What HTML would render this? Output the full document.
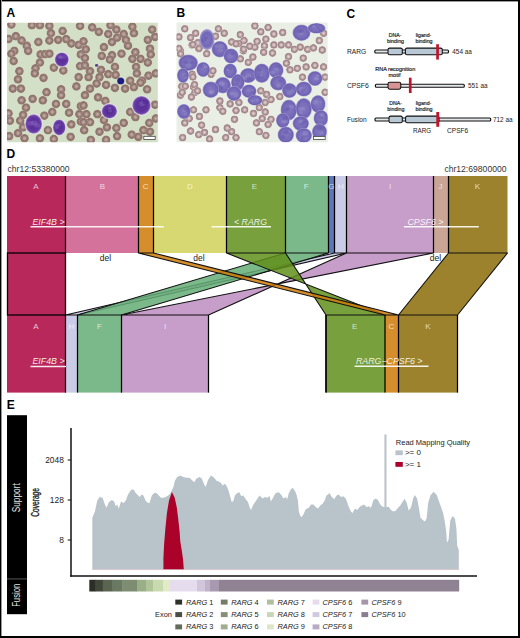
<!DOCTYPE html>
<html><head><meta charset="utf-8"><style>
html,body{margin:0;padding:0;background:#fff;}
body{width:520px;height:638px;position:relative;overflow:hidden;font-family:'Liberation Sans',sans-serif;}
</style></head><body>
<svg width="520" height="638" viewBox="0 0 520 638" style="position:absolute;left:0;top:0">
<rect x="7" y="176" width="58.5" height="77" fill="#b8285a"/>
<rect x="65.5" y="176" width="73.0" height="77" fill="#d5729c"/>
<rect x="138.5" y="176" width="15.0" height="77" fill="#d68e2c"/>
<rect x="153.5" y="176" width="73.0" height="77" fill="#d8d872"/>
<rect x="226.5" y="176" width="59.0" height="77" fill="#78a03c"/>
<rect x="285.5" y="176" width="43.0" height="77" fill="#7cb98a"/>
<rect x="328.5" y="176" width="6.0" height="77" fill="#5b79b9"/>
<rect x="334.5" y="176" width="12.0" height="77" fill="#cacbe6"/>
<rect x="346.5" y="176" width="87.0" height="77" fill="#c79dc9"/>
<rect x="433.5" y="176" width="15.0" height="77" fill="#caa595"/>
<rect x="448.5" y="176" width="59.0" height="77" fill="#9c822c"/>
<rect x="7" y="315" width="58.5" height="77.60000000000002" fill="#b8285a"/>
<rect x="65.5" y="315" width="12.0" height="77.60000000000002" fill="#cacbe6"/>
<rect x="77.5" y="315" width="44.0" height="77.60000000000002" fill="#7cb98a"/>
<rect x="121.5" y="315" width="87.0" height="77.60000000000002" fill="#c79dc9"/>
<rect x="326" y="315" width="59" height="77.60000000000002" fill="#78a03c"/>
<rect x="385" y="315" width="13.5" height="77.60000000000002" fill="#d68e2c"/>
<rect x="398.5" y="315" width="59.0" height="77.60000000000002" fill="#9c822c"/>
<rect x="7.5" y="253" width="58" height="62" fill="#b8285a" stroke="#000" stroke-width="1.3"/>
<polygon points="334.5,253 346.5,253 77.5,315 65.5,315" fill="#c1c2e2" fill-opacity="0.85" stroke="#111" stroke-width="1.1" stroke-linejoin="round"/>
<polygon points="285.5,253 328.5,253 121.5,315 77.5,315" fill="#65ad75" fill-opacity="0.85" stroke="#111" stroke-width="1.1" stroke-linejoin="round"/>
<polygon points="346.5,253 433.5,253 121.5,315 208.5,315" fill="#bd8cbf" fill-opacity="0.85" stroke="#111" stroke-width="1.1" stroke-linejoin="round"/>
<polygon points="226.5,253 285.5,253 326,315 385,315" fill="#608f1a" fill-opacity="0.85" stroke="#111" stroke-width="1.1" stroke-linejoin="round"/>
<polygon points="138.5,253 153.5,253 398.5,315 385,315" fill="#cf7a07" fill-opacity="0.85" stroke="#111" stroke-width="1.1" stroke-linejoin="round"/>
<polygon points="448.5,253 507.5,253 457.5,315 398.5,315" fill="#8b6c07" fill-opacity="0.85" stroke="#111" stroke-width="1.1" stroke-linejoin="round"/>
<line x1="65.5" y1="176" x2="65.5" y2="253" stroke="#000" stroke-width="1.25"/>
<line x1="138.5" y1="176" x2="138.5" y2="253" stroke="#000" stroke-width="1.25"/>
<line x1="153.5" y1="176" x2="153.5" y2="253" stroke="#000" stroke-width="1.25"/>
<line x1="226.5" y1="176" x2="226.5" y2="253" stroke="#000" stroke-width="1.25"/>
<line x1="285.5" y1="176" x2="285.5" y2="253" stroke="#000" stroke-width="1.25"/>
<line x1="328.5" y1="176" x2="328.5" y2="253" stroke="#000" stroke-width="1.25"/>
<line x1="334.5" y1="176" x2="334.5" y2="253" stroke="#000" stroke-width="1.25"/>
<line x1="346.5" y1="176" x2="346.5" y2="253" stroke="#000" stroke-width="1.25"/>
<line x1="433.5" y1="176" x2="433.5" y2="253" stroke="#000" stroke-width="1.25"/>
<line x1="448.5" y1="176" x2="448.5" y2="253" stroke="#000" stroke-width="1.25"/>
<line x1="507.5" y1="176" x2="507.5" y2="253" stroke="#111" stroke-width="0"/>
<line x1="65.5" y1="315" x2="65.5" y2="392.6" stroke="#000" stroke-width="1.25"/>
<line x1="77.5" y1="315" x2="77.5" y2="392.6" stroke="#000" stroke-width="1.25"/>
<line x1="121.5" y1="315" x2="121.5" y2="392.6" stroke="#000" stroke-width="1.25"/>
<line x1="326" y1="315" x2="326" y2="392.6" stroke="#000" stroke-width="1.25"/>
<line x1="385" y1="315" x2="385" y2="392.6" stroke="#000" stroke-width="1.25"/>
<line x1="398.5" y1="315" x2="398.5" y2="392.6" stroke="#000" stroke-width="1.25"/>
<line x1="208.5" y1="315" x2="208.5" y2="392.6" stroke="#000" stroke-width="1.25"/>
<line x1="326" y1="315" x2="326" y2="392.6" stroke="#000" stroke-width="1.25"/>
<line x1="457.5" y1="315" x2="457.5" y2="392.6" stroke="#000" stroke-width="1.25"/>
<text x="36" y="189" font-size="8" text-anchor="middle" fill="#fff" fill-opacity="0.72" style="font-family:'Liberation Sans',sans-serif">A</text>
<text x="102.3" y="189" font-size="8" text-anchor="middle" fill="#fff" fill-opacity="0.72" style="font-family:'Liberation Sans',sans-serif">B</text>
<text x="145.7" y="189" font-size="8" text-anchor="middle" fill="#fff" fill-opacity="0.72" style="font-family:'Liberation Sans',sans-serif">C</text>
<text x="190" y="189" font-size="8" text-anchor="middle" fill="#fff" fill-opacity="0.72" style="font-family:'Liberation Sans',sans-serif">D</text>
<text x="254.5" y="189" font-size="8" text-anchor="middle" fill="#fff" fill-opacity="0.72" style="font-family:'Liberation Sans',sans-serif">E</text>
<text x="306.3" y="189" font-size="8" text-anchor="middle" fill="#fff" fill-opacity="0.72" style="font-family:'Liberation Sans',sans-serif">F</text>
<text x="331.3" y="189" font-size="8" text-anchor="middle" fill="#fff" fill-opacity="0.72" style="font-family:'Liberation Sans',sans-serif">G</text>
<text x="340.8" y="189" font-size="8" text-anchor="middle" fill="#fff" fill-opacity="0.72" style="font-family:'Liberation Sans',sans-serif">H</text>
<text x="390.2" y="189" font-size="8" text-anchor="middle" fill="#fff" fill-opacity="0.72" style="font-family:'Liberation Sans',sans-serif">I</text>
<text x="440.6" y="189" font-size="8" text-anchor="middle" fill="#fff" fill-opacity="0.72" style="font-family:'Liberation Sans',sans-serif">J</text>
<text x="477.3" y="189" font-size="8" text-anchor="middle" fill="#fff" fill-opacity="0.72" style="font-family:'Liberation Sans',sans-serif">K</text>
<text x="36" y="328.5" font-size="8" text-anchor="middle" fill="#fff" fill-opacity="0.72" style="font-family:'Liberation Sans',sans-serif">A</text>
<text x="71.5" y="328.5" font-size="8" text-anchor="middle" fill="#fff" fill-opacity="0.72" style="font-family:'Liberation Sans',sans-serif">H</text>
<text x="99.5" y="328.5" font-size="8" text-anchor="middle" fill="#fff" fill-opacity="0.72" style="font-family:'Liberation Sans',sans-serif">F</text>
<text x="165" y="328.5" font-size="8" text-anchor="middle" fill="#fff" fill-opacity="0.72" style="font-family:'Liberation Sans',sans-serif">I</text>
<text x="354.6" y="328.5" font-size="8" text-anchor="middle" fill="#fff" fill-opacity="0.72" style="font-family:'Liberation Sans',sans-serif">E</text>
<text x="391.5" y="328.5" font-size="8" text-anchor="middle" fill="#fff" fill-opacity="0.72" style="font-family:'Liberation Sans',sans-serif">C</text>
<text x="427.8" y="328.5" font-size="8" text-anchor="middle" fill="#fff" fill-opacity="0.72" style="font-family:'Liberation Sans',sans-serif">K</text>
<text x="32.5" y="225" font-size="8.8" font-style="italic" fill="#fff" fill-opacity="0.9" style="font-family:'Liberation Sans',sans-serif">EIF4B &gt;</text>
<line x1="30.5" y1="226.8" x2="163.8" y2="226.8" stroke="#fff" stroke-opacity="0.9" stroke-width="1.5"/>
<text x="234" y="225" font-size="8.8" font-style="italic" fill="#fff" fill-opacity="0.9" style="font-family:'Liberation Sans',sans-serif">&lt; RARG</text>
<line x1="211.5" y1="226.8" x2="271" y2="226.8" stroke="#fff" stroke-opacity="0.9" stroke-width="1.5"/>
<text x="407.5" y="225" font-size="8.8" font-style="italic" fill="#fff" fill-opacity="0.9" style="font-family:'Liberation Sans',sans-serif">CPSF6 &gt;</text>
<line x1="403.8" y1="226.8" x2="478.8" y2="226.8" stroke="#fff" stroke-opacity="0.9" stroke-width="1.5"/>
<text x="32.5" y="364" font-size="8.8" font-style="italic" fill="#fff" fill-opacity="0.9" style="font-family:'Liberation Sans',sans-serif">EIF4B &gt;</text>
<line x1="30.5" y1="366.5" x2="66" y2="366.5" stroke="#fff" stroke-opacity="0.9" stroke-width="1.5"/>
<text x="356" y="364" font-size="8.8" font-style="italic" fill="#fff" fill-opacity="0.9" style="font-family:'Liberation Sans',sans-serif">RARG−CPSF6 &gt;</text>
<line x1="354.6" y1="366.3" x2="428.5" y2="366.3" stroke="#fff" stroke-opacity="0.9" stroke-width="1.5"/>
<text x="105.5" y="261" font-size="8.5" text-anchor="middle" fill="#1a1a1a" style="font-family:'Liberation Sans',sans-serif">del</text>
<text x="199" y="261" font-size="8.5" text-anchor="middle" fill="#1a1a1a" style="font-family:'Liberation Sans',sans-serif">del</text>
<text x="435.5" y="261" font-size="8.5" text-anchor="middle" fill="#1a1a1a" style="font-family:'Liberation Sans',sans-serif">del</text>
<text x="7.5" y="171.8" font-size="8.6" fill="#333" style="font-family:'Liberation Sans',sans-serif">chr12:53380000</text>
<text x="506.5" y="171.8" font-size="8.6" text-anchor="end" fill="#333" style="font-family:'Liberation Sans',sans-serif">chr12:69800000</text>
<defs>
<clipPath id="clipA"><rect x="7" y="22.8" width="150.8" height="119.5"/></clipPath>
<clipPath id="clipB"><rect x="176.5" y="22.6" width="151.2" height="119.7"/></clipPath>
<filter id="blur" x="-5%" y="-5%" width="110%" height="110%"><feGaussianBlur stdDeviation="0.55"/></filter>
<radialGradient id="rbcA"><stop offset="0" stop-color="#c6b6ac"/><stop offset="0.3" stop-color="#ae988f"/><stop offset="0.65" stop-color="#8e726b"/><stop offset="0.9" stop-color="#947a72"/><stop offset="1" stop-color="#b8aa9e"/></radialGradient>
<radialGradient id="rbcB"><stop offset="0" stop-color="#e6dcdc"/><stop offset="0.35" stop-color="#c9b2b2"/><stop offset="0.7" stop-color="#a08386"/><stop offset="0.92" stop-color="#ad9596"/><stop offset="1" stop-color="#d8d2d0"/></radialGradient>
<radialGradient id="cellA"><stop offset="0" stop-color="#563096"/><stop offset="0.6" stop-color="#5e309c"/><stop offset="0.85" stop-color="#6c42a8"/><stop offset="1" stop-color="#ae9acc"/></radialGradient>
<radialGradient id="cellB"><stop offset="0" stop-color="#8278c0"/><stop offset="0.6" stop-color="#786cba"/><stop offset="0.86" stop-color="#6e62b2"/><stop offset="1" stop-color="#aaa4d2"/></radialGradient>
<radialGradient id="cellB2"><stop offset="0" stop-color="#8078c0"/><stop offset="0.7" stop-color="#7268b8"/><stop offset="1" stop-color="#a8a2d2"/></radialGradient>
<radialGradient id="lymph"><stop offset="0" stop-color="#22208c"/><stop offset="0.8" stop-color="#1c1a7c"/><stop offset="1" stop-color="#5654a0"/></radialGradient>
</defs>
<g clip-path="url(#clipA)"><g filter="url(#blur)">
<rect x="5" y="20" width="156" height="125" fill="#d3dfc6"/>
<circle cx="11.4" cy="24.5" r="4.4" fill="url(#rbcA)"/>
<circle cx="31.9" cy="25.2" r="4.4" fill="url(#rbcA)"/>
<circle cx="39.9" cy="25.2" r="4.4" fill="url(#rbcA)"/>
<circle cx="49.4" cy="25.9" r="4.4" fill="url(#rbcA)"/>
<circle cx="50.9" cy="33.2" r="4.4" fill="url(#rbcA)"/>
<circle cx="62.6" cy="31" r="4.4" fill="url(#rbcA)"/>
<circle cx="66.2" cy="39.1" r="4.4" fill="url(#rbcA)"/>
<circle cx="71.3" cy="43.5" r="4.4" fill="url(#rbcA)"/>
<circle cx="78.6" cy="44.9" r="4.4" fill="url(#rbcA)"/>
<circle cx="80.1" cy="25.9" r="4.4" fill="url(#rbcA)"/>
<circle cx="15.8" cy="36.2" r="4.4" fill="url(#rbcA)"/>
<circle cx="21.6" cy="40.5" r="4.4" fill="url(#rbcA)"/>
<circle cx="8.5" cy="39" r="4.4" fill="url(#rbcA)"/>
<circle cx="26.7" cy="45.7" r="4.4" fill="url(#rbcA)"/>
<circle cx="28.2" cy="50.8" r="4.4" fill="url(#rbcA)"/>
<circle cx="14.3" cy="50.8" r="4.4" fill="url(#rbcA)"/>
<circle cx="11.4" cy="53.7" r="4.4" fill="url(#rbcA)"/>
<circle cx="13.6" cy="61" r="4.4" fill="url(#rbcA)"/>
<circle cx="38.4" cy="42" r="4.4" fill="url(#rbcA)"/>
<circle cx="49.4" cy="40.5" r="4.4" fill="url(#rbcA)"/>
<circle cx="58.2" cy="39.8" r="4.4" fill="url(#rbcA)"/>
<circle cx="40.6" cy="54.4" r="4.4" fill="url(#rbcA)"/>
<circle cx="45" cy="54.2" r="4.4" fill="url(#rbcA)"/>
<circle cx="49.4" cy="53.7" r="4.4" fill="url(#rbcA)"/>
<circle cx="39.9" cy="62.5" r="4.4" fill="url(#rbcA)"/>
<circle cx="35.5" cy="68.3" r="4.4" fill="url(#rbcA)"/>
<circle cx="34.8" cy="73.4" r="4.4" fill="url(#rbcA)"/>
<circle cx="19.4" cy="71.2" r="4.4" fill="url(#rbcA)"/>
<circle cx="18" cy="79.3" r="4.4" fill="url(#rbcA)"/>
<circle cx="43.5" cy="77.8" r="4.4" fill="url(#rbcA)"/>
<circle cx="53.8" cy="67.6" r="4.4" fill="url(#rbcA)"/>
<circle cx="63.3" cy="70.5" r="4.4" fill="url(#rbcA)"/>
<circle cx="80.1" cy="66.1" r="4.4" fill="url(#rbcA)"/>
<circle cx="78.6" cy="77.1" r="4.4" fill="url(#rbcA)"/>
<circle cx="80.8" cy="54.4" r="4.4" fill="url(#rbcA)"/>
<circle cx="92.2" cy="27.4" r="4.4" fill="url(#rbcA)"/>
<circle cx="98.8" cy="31.8" r="4.4" fill="url(#rbcA)"/>
<circle cx="108.3" cy="34" r="4.4" fill="url(#rbcA)"/>
<circle cx="110.5" cy="25.2" r="4.4" fill="url(#rbcA)"/>
<circle cx="116.4" cy="29.6" r="4.4" fill="url(#rbcA)"/>
<circle cx="117.1" cy="37.6" r="4.4" fill="url(#rbcA)"/>
<circle cx="123.7" cy="34" r="4.4" fill="url(#rbcA)"/>
<circle cx="132.4" cy="26.7" r="4.4" fill="url(#rbcA)"/>
<circle cx="133.9" cy="33.2" r="4.4" fill="url(#rbcA)"/>
<circle cx="125.9" cy="39.8" r="4.4" fill="url(#rbcA)"/>
<circle cx="128" cy="45.7" r="4.4" fill="url(#rbcA)"/>
<circle cx="112" cy="42" r="4.4" fill="url(#rbcA)"/>
<circle cx="103.9" cy="47.1" r="4.4" fill="url(#rbcA)"/>
<circle cx="85.7" cy="49.3" r="4.4" fill="url(#rbcA)"/>
<circle cx="83.5" cy="41.3" r="4.4" fill="url(#rbcA)"/>
<circle cx="152.2" cy="29.6" r="4.4" fill="url(#rbcA)"/>
<circle cx="155.1" cy="36.9" r="4.4" fill="url(#rbcA)"/>
<circle cx="147.8" cy="39.8" r="4.4" fill="url(#rbcA)"/>
<circle cx="150" cy="48.6" r="4.4" fill="url(#rbcA)"/>
<circle cx="150.7" cy="54.4" r="4.4" fill="url(#rbcA)"/>
<circle cx="135.4" cy="52.2" r="4.4" fill="url(#rbcA)"/>
<circle cx="140.5" cy="58.8" r="4.4" fill="url(#rbcA)"/>
<circle cx="132.4" cy="58.8" r="4.4" fill="url(#rbcA)"/>
<circle cx="121.5" cy="53.7" r="4.4" fill="url(#rbcA)"/>
<circle cx="112" cy="55.2" r="4.4" fill="url(#rbcA)"/>
<circle cx="109.8" cy="59.5" r="4.4" fill="url(#rbcA)"/>
<circle cx="101.7" cy="55.9" r="4.4" fill="url(#rbcA)"/>
<circle cx="84.9" cy="58.1" r="4.4" fill="url(#rbcA)"/>
<circle cx="84.9" cy="65.4" r="4.4" fill="url(#rbcA)"/>
<circle cx="90" cy="71.2" r="4.4" fill="url(#rbcA)"/>
<circle cx="101" cy="69.8" r="4.4" fill="url(#rbcA)"/>
<circle cx="99.5" cy="77.1" r="4.4" fill="url(#rbcA)"/>
<circle cx="88.6" cy="77.1" r="4.4" fill="url(#rbcA)"/>
<circle cx="108.3" cy="74.2" r="4.4" fill="url(#rbcA)"/>
<circle cx="114.9" cy="66.9" r="4.4" fill="url(#rbcA)"/>
<circle cx="115.6" cy="74.9" r="4.4" fill="url(#rbcA)"/>
<circle cx="136.1" cy="66.9" r="4.4" fill="url(#rbcA)"/>
<circle cx="136.8" cy="73.4" r="4.4" fill="url(#rbcA)"/>
<circle cx="147.8" cy="62.5" r="4.4" fill="url(#rbcA)"/>
<circle cx="148.5" cy="75.6" r="4.4" fill="url(#rbcA)"/>
<circle cx="155.8" cy="73.4" r="4.4" fill="url(#rbcA)"/>
<circle cx="142" cy="80.7" r="4.4" fill="url(#rbcA)"/>
<circle cx="130.2" cy="80.7" r="4.4" fill="url(#rbcA)"/>
<circle cx="12.8" cy="88.6" r="4.4" fill="url(#rbcA)"/>
<circle cx="20.9" cy="88.6" r="4.4" fill="url(#rbcA)"/>
<circle cx="21.6" cy="100.3" r="4.4" fill="url(#rbcA)"/>
<circle cx="26" cy="107.6" r="4.4" fill="url(#rbcA)"/>
<circle cx="32.6" cy="98.8" r="4.4" fill="url(#rbcA)"/>
<circle cx="42.8" cy="100.3" r="4.4" fill="url(#rbcA)"/>
<circle cx="46.5" cy="92.2" r="4.4" fill="url(#rbcA)"/>
<circle cx="56" cy="103.9" r="4.4" fill="url(#rbcA)"/>
<circle cx="61.1" cy="89.3" r="4.4" fill="url(#rbcA)"/>
<circle cx="61.1" cy="95.2" r="4.4" fill="url(#rbcA)"/>
<circle cx="66.2" cy="103.9" r="4.4" fill="url(#rbcA)"/>
<circle cx="76.4" cy="86.4" r="4.4" fill="url(#rbcA)"/>
<circle cx="80.8" cy="106.1" r="4.4" fill="url(#rbcA)"/>
<circle cx="79.4" cy="114.2" r="4.4" fill="url(#rbcA)"/>
<circle cx="69.1" cy="112.7" r="4.4" fill="url(#rbcA)"/>
<circle cx="52.3" cy="112" r="4.4" fill="url(#rbcA)"/>
<circle cx="44.3" cy="115.6" r="4.4" fill="url(#rbcA)"/>
<circle cx="8.5" cy="113.4" r="4.4" fill="url(#rbcA)"/>
<circle cx="9.9" cy="120.7" r="4.4" fill="url(#rbcA)"/>
<circle cx="20.2" cy="120.7" r="4.4" fill="url(#rbcA)"/>
<circle cx="23.1" cy="114.9" r="4.4" fill="url(#rbcA)"/>
<circle cx="23.1" cy="127.3" r="4.4" fill="url(#rbcA)"/>
<circle cx="18" cy="133.2" r="4.4" fill="url(#rbcA)"/>
<circle cx="9.2" cy="136.1" r="4.4" fill="url(#rbcA)"/>
<circle cx="24.5" cy="138.3" r="4.4" fill="url(#rbcA)"/>
<circle cx="39.9" cy="138.3" r="4.4" fill="url(#rbcA)"/>
<circle cx="53.8" cy="139" r="4.4" fill="url(#rbcA)"/>
<circle cx="70.6" cy="136.8" r="4.4" fill="url(#rbcA)"/>
<circle cx="71.3" cy="124.4" r="4.4" fill="url(#rbcA)"/>
<circle cx="80.8" cy="121.5" r="4.4" fill="url(#rbcA)"/>
<circle cx="47.9" cy="130.2" r="4.4" fill="url(#rbcA)"/>
<circle cx="96.6" cy="83.5" r="4.4" fill="url(#rbcA)"/>
<circle cx="106.1" cy="84.9" r="4.4" fill="url(#rbcA)"/>
<circle cx="114.9" cy="87.8" r="4.4" fill="url(#rbcA)"/>
<circle cx="125.1" cy="88.6" r="4.4" fill="url(#rbcA)"/>
<circle cx="133.9" cy="87.1" r="4.4" fill="url(#rbcA)"/>
<circle cx="140.5" cy="82.7" r="4.4" fill="url(#rbcA)"/>
<circle cx="147.1" cy="89.3" r="4.4" fill="url(#rbcA)"/>
<circle cx="90" cy="88.6" r="4.4" fill="url(#rbcA)"/>
<circle cx="84.9" cy="95.2" r="4.4" fill="url(#rbcA)"/>
<circle cx="98.1" cy="97.4" r="4.4" fill="url(#rbcA)"/>
<circle cx="105.4" cy="101" r="4.4" fill="url(#rbcA)"/>
<circle cx="83.5" cy="105.4" r="4.4" fill="url(#rbcA)"/>
<circle cx="86.4" cy="114.2" r="4.4" fill="url(#rbcA)"/>
<circle cx="97.4" cy="114.2" r="4.4" fill="url(#rbcA)"/>
<circle cx="103.9" cy="120" r="4.4" fill="url(#rbcA)"/>
<circle cx="90" cy="122.2" r="4.4" fill="url(#rbcA)"/>
<circle cx="83.5" cy="122.2" r="4.4" fill="url(#rbcA)"/>
<circle cx="84.2" cy="130.2" r="4.4" fill="url(#rbcA)"/>
<circle cx="99.5" cy="131.7" r="4.4" fill="url(#rbcA)"/>
<circle cx="106.9" cy="127.3" r="4.4" fill="url(#rbcA)"/>
<circle cx="116.4" cy="128" r="4.4" fill="url(#rbcA)"/>
<circle cx="123.7" cy="122.9" r="4.4" fill="url(#rbcA)"/>
<circle cx="117.1" cy="136.1" r="4.4" fill="url(#rbcA)"/>
<circle cx="130.2" cy="112" r="4.4" fill="url(#rbcA)"/>
<circle cx="135.4" cy="117.1" r="4.4" fill="url(#rbcA)"/>
<circle cx="131.7" cy="134.6" r="4.4" fill="url(#rbcA)"/>
<circle cx="138.3" cy="136.8" r="4.4" fill="url(#rbcA)"/>
<circle cx="143.4" cy="130.2" r="4.4" fill="url(#rbcA)"/>
<circle cx="150" cy="131.7" r="4.4" fill="url(#rbcA)"/>
<circle cx="149.3" cy="122.9" r="4.4" fill="url(#rbcA)"/>
<circle cx="155.8" cy="118.5" r="4.4" fill="url(#rbcA)"/>
<circle cx="155.1" cy="104.7" r="4.4" fill="url(#rbcA)"/>
<circle cx="106.1" cy="139.8" r="4.4" fill="url(#rbcA)"/>
<circle cx="90.8" cy="139.8" r="4.4" fill="url(#rbcA)"/>
<ellipse cx="61.8" cy="59.6" rx="7.8" ry="8.0" fill="#e6e2ea" fill-opacity="0.8"/>
<ellipse cx="61.8" cy="59.6" rx="7" ry="7.2" fill="url(#cellA)"/>
<ellipse cx="60.7" cy="57.3" rx="2.5" ry="1.9" fill="#8a66c0" fill-opacity="0.45"/>
<ellipse cx="63.8" cy="57.0" rx="2.5" ry="1.9" fill="#7c58b8" fill-opacity="0.45"/>
<ellipse cx="60.0" cy="56.9" rx="2.3" ry="1.8" fill="#8a66c0" fill-opacity="0.45"/>
<ellipse cx="33.7" cy="124" rx="9.200000000000001" ry="10.600000000000001" fill="#e6e2ea" fill-opacity="0.8"/>
<ellipse cx="33.7" cy="124" rx="8.4" ry="9.8" fill="url(#cellA)"/>
<ellipse cx="30.6" cy="123.3" rx="3.3" ry="2.5" fill="#8a66c0" fill-opacity="0.45"/>
<ellipse cx="37.1" cy="125.2" rx="2.9" ry="2.3" fill="#8a66c0" fill-opacity="0.45"/>
<ellipse cx="34.3" cy="123.1" rx="3.5" ry="2.7" fill="#8a66c0" fill-opacity="0.45"/>
<ellipse cx="59.2" cy="127.4" rx="7.1" ry="8.8" fill="#e6e2ea" fill-opacity="0.8"/>
<ellipse cx="59.2" cy="127.4" rx="6.3" ry="8" fill="url(#cellA)"/>
<ellipse cx="59.5" cy="124.8" rx="2.0" ry="1.6" fill="#7c58b8" fill-opacity="0.45"/>
<ellipse cx="57.0" cy="126.0" rx="2.4" ry="1.9" fill="#8a66c0" fill-opacity="0.45"/>
<ellipse cx="56.9" cy="127.9" rx="1.8" ry="1.4" fill="#8a66c0" fill-opacity="0.45"/>
<ellipse cx="109.4" cy="111.2" rx="8.5" ry="8.1" fill="#e6e2ea" fill-opacity="0.8"/>
<ellipse cx="109.4" cy="111.2" rx="7.7" ry="7.3" fill="url(#cellA)"/>
<ellipse cx="109.7" cy="108.3" rx="2.0" ry="1.5" fill="#8a66c0" fill-opacity="0.45"/>
<ellipse cx="109.4" cy="111.4" rx="2.8" ry="2.1" fill="#4a2488" fill-opacity="0.45"/>
<ellipse cx="110.0" cy="110.9" rx="2.2" ry="1.7" fill="#8a66c0" fill-opacity="0.45"/>
<ellipse cx="141.5" cy="105.4" rx="10.0" ry="10.3" fill="#e6e2ea" fill-opacity="0.8"/>
<ellipse cx="141.5" cy="105.4" rx="9.2" ry="9.5" fill="url(#cellA)"/>
<ellipse cx="143.1" cy="103.2" rx="3.2" ry="2.5" fill="#7c58b8" fill-opacity="0.45"/>
<ellipse cx="141.5" cy="104.1" rx="3.0" ry="2.3" fill="#7c58b8" fill-opacity="0.45"/>
<ellipse cx="145.5" cy="102.1" rx="3.0" ry="2.3" fill="#4a2488" fill-opacity="0.45"/>
<ellipse cx="120.7" cy="81" rx="3.6" ry="3.6" fill="url(#lymph)"/>
<ellipse cx="96.6" cy="65.4" rx="1.6" ry="1.4" fill="#5a3c8c"/>
<rect x="143.8" y="136.3" width="11.4" height="3.2" fill="#fff" stroke="#444" stroke-width="0.8"/>
</g></g>
<g clip-path="url(#clipB)"><g filter="url(#blur)">
<rect x="174" y="20" width="156" height="125" fill="#eaefe6"/>
<circle cx="184.8" cy="28.8" r="3.9" fill="url(#rbcB)"/>
<circle cx="195.7" cy="33.2" r="3.9" fill="url(#rbcB)"/>
<circle cx="190.6" cy="37.6" r="3.9" fill="url(#rbcB)"/>
<circle cx="178.9" cy="36.9" r="3.9" fill="url(#rbcB)"/>
<circle cx="197.9" cy="42.7" r="3.9" fill="url(#rbcB)"/>
<circle cx="192.1" cy="44.9" r="3.9" fill="url(#rbcB)"/>
<circle cx="198.7" cy="48.6" r="3.9" fill="url(#rbcB)"/>
<circle cx="180.4" cy="50.8" r="3.9" fill="url(#rbcB)"/>
<circle cx="206.7" cy="53.7" r="3.9" fill="url(#rbcB)"/>
<circle cx="218.4" cy="28.8" r="3.9" fill="url(#rbcB)"/>
<circle cx="224.2" cy="33.2" r="3.9" fill="url(#rbcB)"/>
<circle cx="215.5" cy="36.2" r="3.9" fill="url(#rbcB)"/>
<circle cx="231.6" cy="42" r="3.9" fill="url(#rbcB)"/>
<circle cx="240.3" cy="34.7" r="3.9" fill="url(#rbcB)"/>
<circle cx="244" cy="40.5" r="3.9" fill="url(#rbcB)"/>
<circle cx="238.9" cy="43.5" r="3.9" fill="url(#rbcB)"/>
<circle cx="243.3" cy="50.8" r="3.9" fill="url(#rbcB)"/>
<circle cx="240.3" cy="58.8" r="3.9" fill="url(#rbcB)"/>
<circle cx="211.1" cy="74.2" r="3.9" fill="url(#rbcB)"/>
<circle cx="192.1" cy="74.2" r="3.9" fill="url(#rbcB)"/>
<circle cx="254.9" cy="25.9" r="3.9" fill="url(#rbcB)"/>
<circle cx="268.1" cy="27.4" r="3.9" fill="url(#rbcB)"/>
<circle cx="260.8" cy="31.8" r="3.9" fill="url(#rbcB)"/>
<circle cx="273.9" cy="34" r="3.9" fill="url(#rbcB)"/>
<circle cx="282.7" cy="32.5" r="3.9" fill="url(#rbcB)"/>
<circle cx="257.1" cy="41.3" r="3.9" fill="url(#rbcB)"/>
<circle cx="265.9" cy="39.1" r="3.9" fill="url(#rbcB)"/>
<circle cx="254.9" cy="47.1" r="3.9" fill="url(#rbcB)"/>
<circle cx="264.4" cy="45.7" r="3.9" fill="url(#rbcB)"/>
<circle cx="273.9" cy="44.9" r="3.9" fill="url(#rbcB)"/>
<circle cx="281.2" cy="44.9" r="3.9" fill="url(#rbcB)"/>
<circle cx="288.5" cy="44.9" r="3.9" fill="url(#rbcB)"/>
<circle cx="263.7" cy="52.2" r="3.9" fill="url(#rbcB)"/>
<circle cx="272.5" cy="53" r="3.9" fill="url(#rbcB)"/>
<circle cx="288.5" cy="56.6" r="3.9" fill="url(#rbcB)"/>
<circle cx="286.4" cy="63.2" r="3.9" fill="url(#rbcB)"/>
<circle cx="294.4" cy="49.3" r="3.9" fill="url(#rbcB)"/>
<circle cx="300.2" cy="47.1" r="3.9" fill="url(#rbcB)"/>
<circle cx="303.2" cy="58.1" r="3.9" fill="url(#rbcB)"/>
<circle cx="307.6" cy="49.3" r="3.9" fill="url(#rbcB)"/>
<circle cx="313.4" cy="47.9" r="3.9" fill="url(#rbcB)"/>
<circle cx="319.3" cy="40.5" r="3.9" fill="url(#rbcB)"/>
<circle cx="323.6" cy="33.2" r="3.9" fill="url(#rbcB)"/>
<circle cx="297.3" cy="68.3" r="3.9" fill="url(#rbcB)"/>
<circle cx="306.1" cy="66.9" r="3.9" fill="url(#rbcB)"/>
<circle cx="314.9" cy="65.4" r="3.9" fill="url(#rbcB)"/>
<circle cx="323.6" cy="66.9" r="3.9" fill="url(#rbcB)"/>
<circle cx="290" cy="69.8" r="3.9" fill="url(#rbcB)"/>
<circle cx="302.4" cy="77.1" r="3.9" fill="url(#rbcB)"/>
<circle cx="325.1" cy="77.1" r="3.9" fill="url(#rbcB)"/>
<circle cx="322.2" cy="50" r="3.9" fill="url(#rbcB)"/>
<circle cx="181.8" cy="86.4" r="3.9" fill="url(#rbcB)"/>
<circle cx="193.5" cy="87.1" r="3.9" fill="url(#rbcB)"/>
<circle cx="195" cy="92.2" r="3.9" fill="url(#rbcB)"/>
<circle cx="180.4" cy="95.2" r="3.9" fill="url(#rbcB)"/>
<circle cx="219.9" cy="101" r="3.9" fill="url(#rbcB)"/>
<circle cx="219.9" cy="107.6" r="3.9" fill="url(#rbcB)"/>
<circle cx="230.1" cy="103.9" r="3.9" fill="url(#rbcB)"/>
<circle cx="238.9" cy="102.5" r="3.9" fill="url(#rbcB)"/>
<circle cx="236" cy="110.5" r="3.9" fill="url(#rbcB)"/>
<circle cx="244.7" cy="109.8" r="3.9" fill="url(#rbcB)"/>
<circle cx="193.5" cy="109.8" r="3.9" fill="url(#rbcB)"/>
<circle cx="206" cy="109.8" r="3.9" fill="url(#rbcB)"/>
<circle cx="222.8" cy="111.2" r="3.9" fill="url(#rbcB)"/>
<circle cx="199.4" cy="116.4" r="3.9" fill="url(#rbcB)"/>
<circle cx="189.2" cy="118.5" r="3.9" fill="url(#rbcB)"/>
<circle cx="184.8" cy="122.9" r="3.9" fill="url(#rbcB)"/>
<circle cx="234.5" cy="119.3" r="3.9" fill="url(#rbcB)"/>
<circle cx="201.6" cy="125.1" r="3.9" fill="url(#rbcB)"/>
<circle cx="215.5" cy="129.5" r="3.9" fill="url(#rbcB)"/>
<circle cx="190.6" cy="131" r="3.9" fill="url(#rbcB)"/>
<circle cx="198.7" cy="134.6" r="3.9" fill="url(#rbcB)"/>
<circle cx="204.5" cy="132.4" r="3.9" fill="url(#rbcB)"/>
<circle cx="227.2" cy="128" r="3.9" fill="url(#rbcB)"/>
<circle cx="231.6" cy="131.7" r="3.9" fill="url(#rbcB)"/>
<circle cx="236" cy="137.6" r="3.9" fill="url(#rbcB)"/>
<circle cx="182.6" cy="137.6" r="3.9" fill="url(#rbcB)"/>
<circle cx="209.6" cy="139" r="3.9" fill="url(#rbcB)"/>
<circle cx="225.7" cy="137.6" r="3.9" fill="url(#rbcB)"/>
<circle cx="260.8" cy="90.8" r="3.9" fill="url(#rbcB)"/>
<circle cx="266.6" cy="94.4" r="3.9" fill="url(#rbcB)"/>
<circle cx="271" cy="99.5" r="3.9" fill="url(#rbcB)"/>
<circle cx="265.2" cy="102.5" r="3.9" fill="url(#rbcB)"/>
<circle cx="259.3" cy="107.6" r="3.9" fill="url(#rbcB)"/>
<circle cx="253.5" cy="113.4" r="3.9" fill="url(#rbcB)"/>
<circle cx="265.2" cy="112" r="3.9" fill="url(#rbcB)"/>
<circle cx="262.2" cy="118.5" r="3.9" fill="url(#rbcB)"/>
<circle cx="256.4" cy="122.9" r="3.9" fill="url(#rbcB)"/>
<circle cx="271" cy="119.3" r="3.9" fill="url(#rbcB)"/>
<circle cx="268.1" cy="124.4" r="3.9" fill="url(#rbcB)"/>
<circle cx="265.9" cy="135.4" r="3.9" fill="url(#rbcB)"/>
<circle cx="259.3" cy="131.7" r="3.9" fill="url(#rbcB)"/>
<circle cx="325.1" cy="92.2" r="3.9" fill="url(#rbcB)"/>
<circle cx="279.8" cy="96.6" r="3.9" fill="url(#rbcB)"/>
<circle cx="192.9" cy="44.6" r="3.9" fill="url(#rbcB)"/>
<circle cx="199" cy="48.5" r="3.9" fill="url(#rbcB)"/>
<circle cx="179" cy="48.5" r="3.9" fill="url(#rbcB)"/>
<circle cx="180.6" cy="53.8" r="3.9" fill="url(#rbcB)"/>
<circle cx="236" cy="43.8" r="3.9" fill="url(#rbcB)"/>
<circle cx="243.7" cy="49.2" r="3.9" fill="url(#rbcB)"/>
<circle cx="249.8" cy="46.2" r="3.9" fill="url(#rbcB)"/>
<circle cx="252.9" cy="57" r="3.9" fill="url(#rbcB)"/>
<circle cx="212.9" cy="70.8" r="3.9" fill="url(#rbcB)"/>
<circle cx="192.9" cy="76.9" r="3.9" fill="url(#rbcB)"/>
<circle cx="194.5" cy="84.6" r="3.9" fill="url(#rbcB)"/>
<circle cx="185.2" cy="86.2" r="3.9" fill="url(#rbcB)"/>
<circle cx="182.2" cy="92.3" r="3.9" fill="url(#rbcB)"/>
<circle cx="197.5" cy="90.8" r="3.9" fill="url(#rbcB)"/>
<circle cx="191.4" cy="97" r="3.9" fill="url(#rbcB)"/>
<circle cx="248.3" cy="62.3" r="3.9" fill="url(#rbcB)"/>
<ellipse cx="207.0" cy="39.5" rx="7.5" ry="10.5" fill="url(#cellB2)"/>
<ellipse cx="204.7" cy="39.4" rx="1.8" ry="1.4" fill="#8e8ac4" fill-opacity="0.45"/>
<ellipse cx="204.1" cy="40.0" rx="2.7" ry="2.1" fill="#6458a8" fill-opacity="0.45"/>
<ellipse cx="205.9" cy="38.1" rx="2.3" ry="1.8" fill="#6458a8" fill-opacity="0.45"/>
<ellipse cx="219.8" cy="49.2" rx="8.2" ry="8.2" fill="url(#cellB)"/>
<ellipse cx="216.6" cy="46.2" rx="2.3" ry="1.7" fill="#8e8ac4" fill-opacity="0.45"/>
<ellipse cx="221.0" cy="46.0" rx="2.8" ry="2.2" fill="#8e8ac4" fill-opacity="0.45"/>
<ellipse cx="220.4" cy="50.5" rx="2.5" ry="1.9" fill="#8e8ac4" fill-opacity="0.45"/>
<ellipse cx="231.0" cy="56.0" rx="7.5" ry="7.5" fill="url(#cellB)"/>
<ellipse cx="230.2" cy="57.1" rx="1.8" ry="1.4" fill="#6458a8" fill-opacity="0.45"/>
<ellipse cx="230.0" cy="56.7" rx="2.3" ry="1.8" fill="#9890cc" fill-opacity="0.45"/>
<ellipse cx="232.8" cy="53.5" rx="2.0" ry="1.6" fill="#6458a8" fill-opacity="0.45"/>
<ellipse cx="188.2" cy="62.8" rx="9.8" ry="8.2" fill="url(#cellB)"/>
<ellipse cx="191.9" cy="62.8" rx="2.1" ry="1.6" fill="#6458a8" fill-opacity="0.45"/>
<ellipse cx="188.6" cy="65.6" rx="3.0" ry="2.3" fill="#8e8ac4" fill-opacity="0.45"/>
<ellipse cx="186.2" cy="62.2" rx="2.4" ry="1.8" fill="#6458a8" fill-opacity="0.45"/>
<ellipse cx="203.2" cy="69.5" rx="6.8" ry="7.5" fill="url(#cellB)"/>
<ellipse cx="206.0" cy="67.1" rx="1.8" ry="1.4" fill="#9890cc" fill-opacity="0.45"/>
<ellipse cx="204.2" cy="66.2" rx="2.5" ry="1.9" fill="#9890cc" fill-opacity="0.45"/>
<ellipse cx="201.7" cy="66.2" rx="2.0" ry="1.6" fill="#6458a8" fill-opacity="0.45"/>
<ellipse cx="183.0" cy="75.5" rx="6.0" ry="7.5" fill="url(#cellB)"/>
<ellipse cx="183.6" cy="74.3" rx="1.5" ry="1.2" fill="#8e8ac4" fill-opacity="0.45"/>
<ellipse cx="185.4" cy="76.5" rx="2.1" ry="1.6" fill="#6458a8" fill-opacity="0.45"/>
<ellipse cx="185.2" cy="77.4" rx="2.2" ry="1.7" fill="#8e8ac4" fill-opacity="0.45"/>
<ellipse cx="230.2" cy="71.0" rx="6.8" ry="7.5" fill="url(#cellB)"/>
<ellipse cx="229.5" cy="70.3" rx="1.7" ry="1.3" fill="#8e8ac4" fill-opacity="0.45"/>
<ellipse cx="229.6" cy="68.9" rx="2.6" ry="2.0" fill="#6458a8" fill-opacity="0.45"/>
<ellipse cx="228.1" cy="69.9" rx="1.6" ry="1.3" fill="#9890cc" fill-opacity="0.45"/>
<ellipse cx="248.2" cy="75.5" rx="8.2" ry="7.5" fill="url(#cellB)"/>
<ellipse cx="248.7" cy="75.7" rx="2.9" ry="2.2" fill="#8e8ac4" fill-opacity="0.45"/>
<ellipse cx="244.7" cy="78.0" rx="2.5" ry="1.9" fill="#9890cc" fill-opacity="0.45"/>
<ellipse cx="249.2" cy="78.6" rx="2.5" ry="1.9" fill="#6458a8" fill-opacity="0.45"/>
<ellipse cx="222.8" cy="85.2" rx="8.2" ry="8.2" fill="url(#cellB)"/>
<ellipse cx="220.0" cy="87.8" rx="3.2" ry="2.5" fill="#6458a8" fill-opacity="0.45"/>
<ellipse cx="222.7" cy="83.8" rx="2.1" ry="1.6" fill="#8e8ac4" fill-opacity="0.45"/>
<ellipse cx="221.6" cy="83.5" rx="3.0" ry="2.3" fill="#9890cc" fill-opacity="0.45"/>
<ellipse cx="237.8" cy="82.2" rx="6.8" ry="8.2" fill="url(#cellB)"/>
<ellipse cx="237.9" cy="80.0" rx="2.6" ry="2.0" fill="#6458a8" fill-opacity="0.45"/>
<ellipse cx="235.6" cy="82.5" rx="1.6" ry="1.2" fill="#8e8ac4" fill-opacity="0.45"/>
<ellipse cx="236.6" cy="83.3" rx="1.7" ry="1.3" fill="#6458a8" fill-opacity="0.45"/>
<ellipse cx="210.8" cy="89.8" rx="8.2" ry="8.2" fill="url(#cellB)"/>
<ellipse cx="210.9" cy="92.8" rx="2.4" ry="1.8" fill="#9890cc" fill-opacity="0.45"/>
<ellipse cx="211.0" cy="91.9" rx="2.3" ry="1.8" fill="#9890cc" fill-opacity="0.45"/>
<ellipse cx="211.6" cy="91.9" rx="2.9" ry="2.2" fill="#9890cc" fill-opacity="0.45"/>
<ellipse cx="234.0" cy="93.5" rx="7.5" ry="7.5" fill="url(#cellB)"/>
<ellipse cx="236.1" cy="95.6" rx="2.6" ry="2.0" fill="#9890cc" fill-opacity="0.45"/>
<ellipse cx="232.0" cy="93.5" rx="2.6" ry="2.0" fill="#9890cc" fill-opacity="0.45"/>
<ellipse cx="236.0" cy="93.3" rx="2.0" ry="1.5" fill="#8e8ac4" fill-opacity="0.45"/>
<ellipse cx="249.0" cy="91.2" rx="7.5" ry="6.8" fill="url(#cellB)"/>
<ellipse cx="252.1" cy="90.9" rx="2.6" ry="2.0" fill="#6458a8" fill-opacity="0.45"/>
<ellipse cx="252.1" cy="90.4" rx="1.8" ry="1.4" fill="#9890cc" fill-opacity="0.45"/>
<ellipse cx="248.8" cy="90.2" rx="2.1" ry="1.6" fill="#8e8ac4" fill-opacity="0.45"/>
<ellipse cx="255.0" cy="100.2" rx="7.5" ry="5.2" fill="url(#cellB)"/>
<ellipse cx="257.3" cy="100.1" rx="1.7" ry="1.3" fill="#8e8ac4" fill-opacity="0.45"/>
<ellipse cx="252.2" cy="101.0" rx="2.0" ry="1.5" fill="#8e8ac4" fill-opacity="0.45"/>
<ellipse cx="256.7" cy="100.1" rx="1.4" ry="1.0" fill="#8e8ac4" fill-opacity="0.45"/>
<ellipse cx="261.8" cy="73.2" rx="8.2" ry="9.8" fill="url(#cellB)"/>
<ellipse cx="260.6" cy="75.9" rx="3.2" ry="2.4" fill="#6458a8" fill-opacity="0.45"/>
<ellipse cx="261.5" cy="75.3" rx="2.0" ry="1.6" fill="#9890cc" fill-opacity="0.45"/>
<ellipse cx="259.4" cy="69.9" rx="2.1" ry="1.6" fill="#6458a8" fill-opacity="0.45"/>
<ellipse cx="276.0" cy="70.2" rx="7.5" ry="8.2" fill="url(#cellB)"/>
<ellipse cx="278.1" cy="67.6" rx="2.7" ry="2.1" fill="#6458a8" fill-opacity="0.45"/>
<ellipse cx="277.1" cy="69.1" rx="2.4" ry="1.8" fill="#9890cc" fill-opacity="0.45"/>
<ellipse cx="272.8" cy="72.4" rx="2.6" ry="2.0" fill="#9890cc" fill-opacity="0.45"/>
<ellipse cx="278.2" cy="83.0" rx="8.2" ry="7.5" fill="url(#cellB)"/>
<ellipse cx="278.4" cy="85.9" rx="2.3" ry="1.7" fill="#9890cc" fill-opacity="0.45"/>
<ellipse cx="280.6" cy="81.0" rx="2.0" ry="1.6" fill="#6458a8" fill-opacity="0.45"/>
<ellipse cx="278.2" cy="84.8" rx="2.1" ry="1.6" fill="#8e8ac4" fill-opacity="0.45"/>
<ellipse cx="289.5" cy="90.5" rx="7.5" ry="7.5" fill="url(#cellB)"/>
<ellipse cx="289.0" cy="88.0" rx="2.8" ry="2.2" fill="#6458a8" fill-opacity="0.45"/>
<ellipse cx="292.2" cy="91.6" rx="2.7" ry="2.1" fill="#8e8ac4" fill-opacity="0.45"/>
<ellipse cx="289.0" cy="93.3" rx="2.3" ry="1.8" fill="#8e8ac4" fill-opacity="0.45"/>
<ellipse cx="303.8" cy="89.0" rx="8.2" ry="7.5" fill="url(#cellB)"/>
<ellipse cx="301.2" cy="89.1" rx="2.8" ry="2.1" fill="#9890cc" fill-opacity="0.45"/>
<ellipse cx="304.6" cy="90.9" rx="1.9" ry="1.5" fill="#9890cc" fill-opacity="0.45"/>
<ellipse cx="303.6" cy="90.5" rx="2.4" ry="1.9" fill="#6458a8" fill-opacity="0.45"/>
<ellipse cx="315.0" cy="78.5" rx="7.5" ry="7.5" fill="url(#cellB)"/>
<ellipse cx="316.2" cy="78.7" rx="2.3" ry="1.8" fill="#9890cc" fill-opacity="0.45"/>
<ellipse cx="317.6" cy="75.5" rx="2.0" ry="1.5" fill="#9890cc" fill-opacity="0.45"/>
<ellipse cx="316.8" cy="78.6" rx="2.4" ry="1.9" fill="#9890cc" fill-opacity="0.45"/>
<ellipse cx="301.5" cy="32.8" rx="9.0" ry="8.2" fill="url(#cellB)"/>
<ellipse cx="301.0" cy="33.6" rx="2.6" ry="2.0" fill="#8e8ac4" fill-opacity="0.45"/>
<ellipse cx="299.1" cy="31.2" rx="2.6" ry="2.0" fill="#6458a8" fill-opacity="0.45"/>
<ellipse cx="301.6" cy="30.9" rx="2.6" ry="2.0" fill="#6458a8" fill-opacity="0.45"/>
<ellipse cx="316.5" cy="28.2" rx="9.0" ry="5.2" fill="url(#cellB)"/>
<ellipse cx="319.9" cy="30.0" rx="1.4" ry="1.1" fill="#6458a8" fill-opacity="0.45"/>
<ellipse cx="313.6" cy="26.4" rx="1.6" ry="1.2" fill="#9890cc" fill-opacity="0.45"/>
<ellipse cx="317.9" cy="27.9" rx="1.4" ry="1.1" fill="#6458a8" fill-opacity="0.45"/>
<ellipse cx="183.8" cy="111.5" rx="6.8" ry="7.5" fill="url(#cellB)"/>
<ellipse cx="185.5" cy="114.2" rx="1.8" ry="1.4" fill="#8e8ac4" fill-opacity="0.45"/>
<ellipse cx="184.7" cy="110.6" rx="1.9" ry="1.4" fill="#9890cc" fill-opacity="0.45"/>
<ellipse cx="186.7" cy="109.6" rx="2.6" ry="2.0" fill="#6458a8" fill-opacity="0.45"/>
<ellipse cx="288.8" cy="110.0" rx="8.2" ry="10.5" fill="url(#cellB)"/>
<ellipse cx="291.6" cy="106.8" rx="2.8" ry="2.1" fill="#9890cc" fill-opacity="0.45"/>
<ellipse cx="286.3" cy="109.4" rx="2.6" ry="2.0" fill="#6458a8" fill-opacity="0.45"/>
<ellipse cx="288.2" cy="108.6" rx="2.0" ry="1.6" fill="#6458a8" fill-opacity="0.45"/>
<ellipse cx="303.8" cy="108.5" rx="8.2" ry="10.5" fill="url(#cellB)"/>
<ellipse cx="300.3" cy="109.0" rx="2.5" ry="1.9" fill="#9890cc" fill-opacity="0.45"/>
<ellipse cx="302.9" cy="108.7" rx="2.3" ry="1.8" fill="#9890cc" fill-opacity="0.45"/>
<ellipse cx="300.9" cy="112.5" rx="2.2" ry="1.7" fill="#9890cc" fill-opacity="0.45"/>
<ellipse cx="318.0" cy="104.0" rx="7.5" ry="9.0" fill="url(#cellB)"/>
<ellipse cx="315.2" cy="102.2" rx="2.8" ry="2.2" fill="#9890cc" fill-opacity="0.45"/>
<ellipse cx="316.5" cy="101.0" rx="2.2" ry="1.7" fill="#8e8ac4" fill-opacity="0.45"/>
<ellipse cx="320.2" cy="102.0" rx="1.9" ry="1.5" fill="#8e8ac4" fill-opacity="0.45"/>
<ellipse cx="282.8" cy="120.5" rx="6.8" ry="7.5" fill="url(#cellB)"/>
<ellipse cx="283.2" cy="121.9" rx="1.7" ry="1.3" fill="#9890cc" fill-opacity="0.45"/>
<ellipse cx="284.6" cy="118.4" rx="2.5" ry="2.0" fill="#6458a8" fill-opacity="0.45"/>
<ellipse cx="285.5" cy="121.4" rx="2.4" ry="1.9" fill="#9890cc" fill-opacity="0.45"/>
<ellipse cx="321.0" cy="118.2" rx="7.5" ry="8.2" fill="url(#cellB)"/>
<ellipse cx="321.7" cy="116.2" rx="2.1" ry="1.6" fill="#9890cc" fill-opacity="0.45"/>
<ellipse cx="320.7" cy="117.0" rx="2.4" ry="1.8" fill="#6458a8" fill-opacity="0.45"/>
<ellipse cx="321.8" cy="114.8" rx="2.6" ry="2.0" fill="#9890cc" fill-opacity="0.45"/>
<ellipse cx="300.8" cy="123.5" rx="8.2" ry="7.5" fill="url(#cellB)"/>
<ellipse cx="304.3" cy="121.9" rx="2.0" ry="1.5" fill="#6458a8" fill-opacity="0.45"/>
<ellipse cx="301.7" cy="123.7" rx="2.0" ry="1.5" fill="#6458a8" fill-opacity="0.45"/>
<ellipse cx="300.8" cy="121.3" rx="2.2" ry="1.7" fill="#9890cc" fill-opacity="0.45"/>
<ellipse cx="285.8" cy="134.8" rx="8.2" ry="8.2" fill="url(#cellB)"/>
<ellipse cx="289.4" cy="131.4" rx="1.9" ry="1.5" fill="#8e8ac4" fill-opacity="0.45"/>
<ellipse cx="286.2" cy="132.5" rx="2.5" ry="1.9" fill="#6458a8" fill-opacity="0.45"/>
<ellipse cx="282.9" cy="137.2" rx="2.5" ry="1.9" fill="#6458a8" fill-opacity="0.45"/>
<ellipse cx="303.8" cy="135.5" rx="8.2" ry="7.5" fill="url(#cellB)"/>
<ellipse cx="304.1" cy="138.1" rx="2.9" ry="2.2" fill="#6458a8" fill-opacity="0.45"/>
<ellipse cx="305.2" cy="138.8" rx="2.2" ry="1.7" fill="#8e8ac4" fill-opacity="0.45"/>
<ellipse cx="305.5" cy="133.1" rx="2.9" ry="2.2" fill="#9890cc" fill-opacity="0.45"/>
<ellipse cx="319.5" cy="131.8" rx="7.5" ry="8.2" fill="url(#cellB)"/>
<ellipse cx="321.8" cy="128.2" rx="2.5" ry="1.9" fill="#6458a8" fill-opacity="0.45"/>
<ellipse cx="319.0" cy="128.5" rx="2.5" ry="1.9" fill="#6458a8" fill-opacity="0.45"/>
<ellipse cx="322.0" cy="133.1" rx="2.1" ry="1.6" fill="#9890cc" fill-opacity="0.45"/>
<rect x="313.4" y="136.4" width="11.8" height="3" fill="#fff" stroke="#444" stroke-width="0.8"/>
</g></g>
<rect x="7" y="415.2" width="20" height="199" fill="#000"/>
<line x1="7" y1="578.9" x2="27" y2="578.9" stroke="#555" stroke-width="1"/>
<text transform="translate(20.2,497.75) rotate(-90) scale(0.83,1)" x="0" y="0" font-size="10" text-anchor="middle" fill="#e6e6e6" style="font-family:'Liberation Sans',sans-serif">Support</text>
<text transform="translate(20.2,595.3) rotate(-90) scale(0.77,1)" x="0" y="0" font-size="10" text-anchor="middle" fill="#e6e6e6" style="font-family:'Liberation Sans',sans-serif">Fusion</text>
<text transform="translate(39.3,502.35) rotate(-90) scale(0.6,1)" x="0" y="0" font-size="11" text-anchor="middle" fill="#222" stroke="#222" stroke-width="0.35" style="font-family:'Liberation Sans',sans-serif">Coverage</text>
<polygon points="92.3,569.5 92.3,517.7 94.9,511.5 97.2,500.8 99.5,496.9 102.6,497.7 104.9,504.6 106.5,507.7 108.8,502.3 111.8,500 114.2,501.5 115.7,506.2 117.2,504.6 118.8,508.5 121,501.5 123.4,503 125.7,500.8 128,494.6 131,490 133.4,489.2 135.7,493 137.2,494.6 139.5,497 141.8,494.6 143.4,495.4 145.7,500.8 148,503 149.5,503 151.8,495.4 154.2,493 156.5,493 158.8,495.4 161,497.7 163.4,497.7 165.7,497 168,495.4 170,494 172,490 173.4,487 174.9,480.8 177.2,477 180.3,475.4 183.4,477 186.5,477.7 189.5,477.7 191.8,480 194.2,482.3 196.5,478.5 199.5,477 201.8,478.5 204.2,484.6 205.7,487 208,480 211,475.4 214.2,477.7 216.5,480.8 218.8,481.5 221,483 222.6,485.4 224.9,483.8 227.2,487 228.8,491.5 230.3,497 231.8,502.3 233.4,500.8 234.9,495.4 237.2,493 239.5,492.3 241,496 243.4,495.4 245.7,499.2 248,502 249.5,507 251,510 253.4,504.6 256.5,500 259.5,495.4 262.6,498.5 264.9,497 267.2,497.7 269.5,496 271,501.5 273.4,497 275.7,493 278.8,492.3 281,494.6 283.4,498.5 285.7,497 287.2,499.2 288.8,493 291,489.2 292.6,487.7 294.9,490.8 296.5,494.6 298,500.8 298.8,511.5 300.3,516 301.8,517 303.4,514.6 305.7,509.2 308.8,507.7 311,504.6 313.4,504.6 315.7,507 318,508.5 320.3,505.4 322.6,503.8 324.9,500 326.5,495.4 328,494.6 329.5,493 331.8,497 334.2,499.2 336.5,495.4 338.8,494.6 341,497 343.4,496.2 345.7,498.5 347.2,502.3 348.8,507 351,511.5 352.6,513 354.9,508.5 357.2,510 359.5,507 361.8,505.4 364.2,504.6 366.5,507 368.8,506.2 371,507.7 373.4,500 375.7,498.5 378,500 379.5,503 381,505.4 383.4,507 384.4,507 384.4,434.5 386.5,434.5 386.5,507 388.8,507 391,510 393.4,511.5 395.7,510.8 398,507.7 400.3,505.4 402.4,502 404.7,498.8 407,503.5 408.6,510.6 411,507.4 413.3,498 414.9,494.9 417.2,498.8 418.8,507.4 420.4,517.6 422.7,520 425,521.5 426.6,518.4 428.2,502.7 430.6,494.9 433.7,491.8 436.8,494.9 439.2,502 441.5,508.2 443.1,512.9 444.7,520.8 446.2,531.7 447,542.7 448.6,539.6 450.2,520.8 452.5,516 454.9,518.4 456.4,528.6 457.2,545.8 458.8,549.7 458.8,569.5" fill="#b9c4ca"/>
<polygon points="163.4,569.5 163.4,558.3 164.1,544.2 165.5,527.3 166.9,513.2 169,500.5 171.9,492 174.7,497.7 176.8,507.6 178.2,518.8 179.6,531.5 180.3,541.4 181.7,550 183.1,559.8 183.8,569.5" fill="#aa0228"/>
<line x1="92.3" y1="569.6" x2="458.8" y2="569.6" stroke="#d9b0b8" stroke-width="0.6"/>
<line x1="71" y1="428" x2="71" y2="576.7" stroke="#111" stroke-width="1.5"/>
<line x1="70.3" y1="576" x2="477" y2="576" stroke="#111" stroke-width="1.5"/>
<line x1="67.7" y1="460" x2="71" y2="460" stroke="#111" stroke-width="1"/>
<text x="63.8" y="462.8" font-size="8.4" text-anchor="end" fill="#222" style="font-family:'Liberation Sans',sans-serif">2048</text>
<line x1="67.7" y1="500" x2="71" y2="500" stroke="#111" stroke-width="1"/>
<text x="63.8" y="502.8" font-size="8.4" text-anchor="end" fill="#222" style="font-family:'Liberation Sans',sans-serif">128</text>
<line x1="67.7" y1="540" x2="71" y2="540" stroke="#111" stroke-width="1"/>
<text x="63.8" y="542.8" font-size="8.4" text-anchor="end" fill="#222" style="font-family:'Liberation Sans',sans-serif">8</text>
<text x="395.8" y="445" font-size="7.5" fill="#222" style="font-family:'Liberation Sans',sans-serif">Read Mapping Quality</text>
<rect x="395.4" y="450.4" width="7.4" height="4.8" fill="#b9c4ca"/>
<text x="404.9" y="455.3" font-size="8" fill="#222" style="font-family:'Liberation Sans',sans-serif">&gt;= 0</text>
<rect x="395.4" y="462" width="7.4" height="4.8" fill="#aa0228"/>
<text x="404.9" y="466.9" font-size="8" fill="#222" style="font-family:'Liberation Sans',sans-serif">&gt;= 1</text>
<rect x="89.3" y="579.8" width="6.60" height="11.7" fill="#2b2d27"/>
<rect x="95.6" y="579.8" width="7.50" height="11.7" fill="#41463a"/>
<rect x="102.8" y="579.8" width="9.50" height="11.7" fill="#596451"/>
<rect x="112" y="579.8" width="10.80" height="11.7" fill="#6b7862"/>
<rect x="122.5" y="579.8" width="14.80" height="11.7" fill="#7e8d72"/>
<rect x="137" y="579.8" width="9.30" height="11.7" fill="#9aae88"/>
<rect x="146" y="579.8" width="7.30" height="11.7" fill="#b0c49a"/>
<rect x="153" y="579.8" width="10.30" height="11.7" fill="#c9dab0"/>
<rect x="163" y="579.8" width="7.30" height="11.7" fill="#e1ebc6"/>
<rect x="170" y="579.8" width="27.30" height="11.7" fill="#e5dcee"/>
<rect x="197" y="579.8" width="8.30" height="11.7" fill="#d1c6dc"/>
<rect x="205" y="579.8" width="5.30" height="11.7" fill="#c0b2c9"/>
<rect x="210" y="579.8" width="9.30" height="11.7" fill="#a898b0"/>
<rect x="219" y="579.8" width="240.20" height="11.7" fill="#8f8292"/>
<text x="171.9" y="617.2" font-size="7.4" text-anchor="end" fill="#222" style="font-family:'Liberation Sans',sans-serif">Exon</text>
<rect x="175.3" y="599.6" width="6.8" height="5" fill="#2e302a"/>
<text x="185.9" y="604.6" font-size="7.4" fill="#222" style="font-family:'Liberation Sans',sans-serif"><tspan font-style="italic">RARG</tspan> 1</text>
<rect x="175.3" y="612.1" width="6.8" height="5" fill="#4a4e44"/>
<text x="185.9" y="617.1" font-size="7.4" fill="#222" style="font-family:'Liberation Sans',sans-serif"><tspan font-style="italic">RARG</tspan> 2</text>
<rect x="175.3" y="624.4" width="6.8" height="5" fill="#646b5a"/>
<text x="185.9" y="629.4" font-size="7.4" fill="#222" style="font-family:'Liberation Sans',sans-serif"><tspan font-style="italic">RARG</tspan> 3</text>
<rect x="220.8" y="599.6" width="6.8" height="5" fill="#747c68"/>
<text x="231.2" y="604.6" font-size="7.4" fill="#222" style="font-family:'Liberation Sans',sans-serif"><tspan font-style="italic">RARG</tspan> 4</text>
<rect x="220.8" y="612.1" width="6.8" height="5" fill="#878f79"/>
<text x="231.2" y="617.1" font-size="7.4" fill="#222" style="font-family:'Liberation Sans',sans-serif"><tspan font-style="italic">RARG</tspan> 5</text>
<rect x="220.8" y="624.4" width="6.8" height="5" fill="#a0ac90"/>
<text x="231.2" y="629.4" font-size="7.4" fill="#222" style="font-family:'Liberation Sans',sans-serif"><tspan font-style="italic">RARG</tspan> 6</text>
<rect x="267" y="599.6" width="6.8" height="5" fill="#b2bea2"/>
<text x="277.4" y="604.6" font-size="7.4" fill="#222" style="font-family:'Liberation Sans',sans-serif"><tspan font-style="italic">RARG</tspan> 7</text>
<rect x="267" y="612.1" width="6.8" height="5" fill="#c9d5b9"/>
<text x="277.4" y="617.1" font-size="7.4" fill="#222" style="font-family:'Liberation Sans',sans-serif"><tspan font-style="italic">RARG</tspan> 8</text>
<rect x="267" y="624.4" width="6.8" height="5" fill="#dde6c6"/>
<text x="277.4" y="629.4" font-size="7.4" fill="#222" style="font-family:'Liberation Sans',sans-serif"><tspan font-style="italic">RARG</tspan> 9</text>
<rect x="312.6" y="599.6" width="6.8" height="5" fill="#e5ddeb"/>
<text x="322.4" y="604.6" font-size="7.4" fill="#222" style="font-family:'Liberation Sans',sans-serif"><tspan font-style="italic">CPSF6</tspan> 6</text>
<rect x="312.6" y="612.1" width="6.8" height="5" fill="#d1c9dd"/>
<text x="322.4" y="617.1" font-size="7.4" fill="#222" style="font-family:'Liberation Sans',sans-serif"><tspan font-style="italic">CPSF6</tspan> 7</text>
<rect x="312.6" y="624.4" width="6.8" height="5" fill="#b9abc5"/>
<text x="322.4" y="629.4" font-size="7.4" fill="#222" style="font-family:'Liberation Sans',sans-serif"><tspan font-style="italic">CPSF6</tspan> 8</text>
<rect x="361.4" y="599.6" width="6.8" height="5" fill="#a596a9"/>
<text x="371.5" y="604.6" font-size="7.4" fill="#222" style="font-family:'Liberation Sans',sans-serif"><tspan font-style="italic">CPSF6</tspan> 9</text>
<rect x="361.4" y="612.1" width="6.8" height="5" fill="#8a7d8f"/>
<text x="371.5" y="617.1" font-size="7.4" fill="#222" style="font-family:'Liberation Sans',sans-serif"><tspan font-style="italic">CPSF6</tspan> 10</text>
<text x="346.9" y="53.5" font-size="6.7" text-anchor="start" fill="#1a1a1a" style="font-family:'Liberation Sans',sans-serif" >RARG</text>
<rect x="374.8" y="50.0" width="73.69999999999999" height="3" rx="1" fill="#e4e7e8" stroke="#111" stroke-width="1.15"/>
<rect x="388" y="48.1" width="14.300000000000011" height="6.699999999999996" rx="1.6" fill="#b8c9d5" stroke="#111" stroke-width="1.05"/>
<rect x="405.4" y="48.1" width="36.900000000000034" height="6.699999999999996" rx="1.6" fill="#b8c9d5" stroke="#111" stroke-width="1.05"/>
<rect x="436.2" y="44.2" width="2.6999999999999886" height="15.399999999999999" fill="#c0142e"/>
<text x="452.3" y="53.6" font-size="6.4" text-anchor="start" fill="#1a1a1a" style="font-family:'Liberation Sans',sans-serif" >454 aa</text>
<text x="395.2" y="36.7" font-size="5.2" text-anchor="middle" fill="#1a1a1a" style="font-family:'Liberation Sans',sans-serif" stroke="#222" stroke-width="0.18">DNA-</text>
<text x="395.5" y="43" font-size="5.3" text-anchor="middle" fill="#1a1a1a" style="font-family:'Liberation Sans',sans-serif" stroke="#222" stroke-width="0.18">binding</text>
<text x="423.5" y="36.7" font-size="5.2" text-anchor="middle" fill="#1a1a1a" style="font-family:'Liberation Sans',sans-serif" stroke="#222" stroke-width="0.18">ligand-</text>
<text x="424" y="43" font-size="5.3" text-anchor="middle" fill="#1a1a1a" style="font-family:'Liberation Sans',sans-serif" stroke="#222" stroke-width="0.18">binding</text>
<text x="346.9" y="88.2" font-size="6.8" text-anchor="start" fill="#1a1a1a" style="font-family:'Liberation Sans',sans-serif" >CPSF6</text>
<rect x="375.4" y="84.2" width="88.90000000000003" height="3" rx="1" fill="#e4e7e8" stroke="#111" stroke-width="1.15"/>
<rect x="388" y="82.3" width="12.800000000000011" height="6.900000000000006" rx="1.6" fill="#d89494" stroke="#111" stroke-width="1.05"/>
<rect x="408.9" y="77.7" width="2.7000000000000455" height="15.299999999999997" fill="#c0142e"/>
<text x="468" y="88.1" font-size="6.4" text-anchor="start" fill="#1a1a1a" style="font-family:'Liberation Sans',sans-serif" >551 aa</text>
<text x="395.2" y="71" font-size="5.55" text-anchor="middle" fill="#1a1a1a" style="font-family:'Liberation Sans',sans-serif" stroke="#222" stroke-width="0.18">RNA recognition</text>
<text x="394.5" y="77.3" font-size="5.5" text-anchor="middle" fill="#1a1a1a" style="font-family:'Liberation Sans',sans-serif" stroke="#222" stroke-width="0.18">motif</text>
<text x="346.9" y="121.6" font-size="6.6" text-anchor="start" fill="#1a1a1a" style="font-family:'Liberation Sans',sans-serif" >Fusion</text>
<rect x="375" y="118.0" width="115.69999999999999" height="3" rx="1" fill="#e4e7e8" stroke="#111" stroke-width="1.15"/>
<rect x="389" y="116.1" width="13.300000000000011" height="6.700000000000003" rx="1.6" fill="#b8c9d5" stroke="#111" stroke-width="1.05"/>
<rect x="405.6" y="116.1" width="33.39999999999998" height="6.700000000000003" rx="1.6" fill="#b8c9d5" stroke="#111" stroke-width="1.05"/>
<rect x="436.3" y="112" width="2.8999999999999773" height="14.799999999999997" fill="#c0142e"/>
<text x="493" y="121.8" font-size="6.4" text-anchor="start" fill="#1a1a1a" style="font-family:'Liberation Sans',sans-serif" >712 aa</text>
<text x="395.6" y="104.6" font-size="5.2" text-anchor="middle" fill="#1a1a1a" style="font-family:'Liberation Sans',sans-serif" stroke="#222" stroke-width="0.18">DNA-</text>
<text x="395.9" y="111" font-size="5.3" text-anchor="middle" fill="#1a1a1a" style="font-family:'Liberation Sans',sans-serif" stroke="#222" stroke-width="0.18">binding</text>
<text x="423.5" y="104.6" font-size="5.2" text-anchor="middle" fill="#1a1a1a" style="font-family:'Liberation Sans',sans-serif" stroke="#222" stroke-width="0.18">ligand-</text>
<text x="424" y="111" font-size="5.3" text-anchor="middle" fill="#1a1a1a" style="font-family:'Liberation Sans',sans-serif" stroke="#222" stroke-width="0.18">binding</text>
<text x="413" y="132.5" font-size="6.3" text-anchor="start" fill="#1a1a1a" style="font-family:'Liberation Sans',sans-serif" >RARG</text>
<text x="447" y="132.5" font-size="6.6" text-anchor="start" fill="#1a1a1a" style="font-family:'Liberation Sans',sans-serif" >CPSF6</text>
<text x="6.5" y="17" font-size="12" font-weight="bold" fill="#000" style="font-family:'Liberation Sans',sans-serif">A</text>
<text x="176.4" y="17.1" font-size="12" font-weight="bold" fill="#000" style="font-family:'Liberation Sans',sans-serif">B</text>
<text x="346.4" y="17.5" font-size="12" font-weight="bold" fill="#000" style="font-family:'Liberation Sans',sans-serif">C</text>
<text x="6.4" y="157.6" font-size="12" font-weight="bold" fill="#000" style="font-family:'Liberation Sans',sans-serif">D</text>
<text x="6.8" y="408.8" font-size="12" font-weight="bold" fill="#000" style="font-family:'Liberation Sans',sans-serif">E</text>
</svg>
<div style="position:absolute;left:0;top:0;width:520px;height:1px;background:#000"></div>
<div style="position:absolute;left:0;top:1px;width:520px;height:1px;background:#999"></div>
<div style="position:absolute;left:0;top:0;width:1px;height:638px;background:#000"></div>
<div style="position:absolute;left:1px;top:0;width:1px;height:638px;background:#999"></div>
<div style="position:absolute;left:518px;top:0;width:2px;height:638px;background:#000"></div>
<div style="position:absolute;left:0;top:636px;width:520px;height:2px;background:#000"></div>
</body></html>
